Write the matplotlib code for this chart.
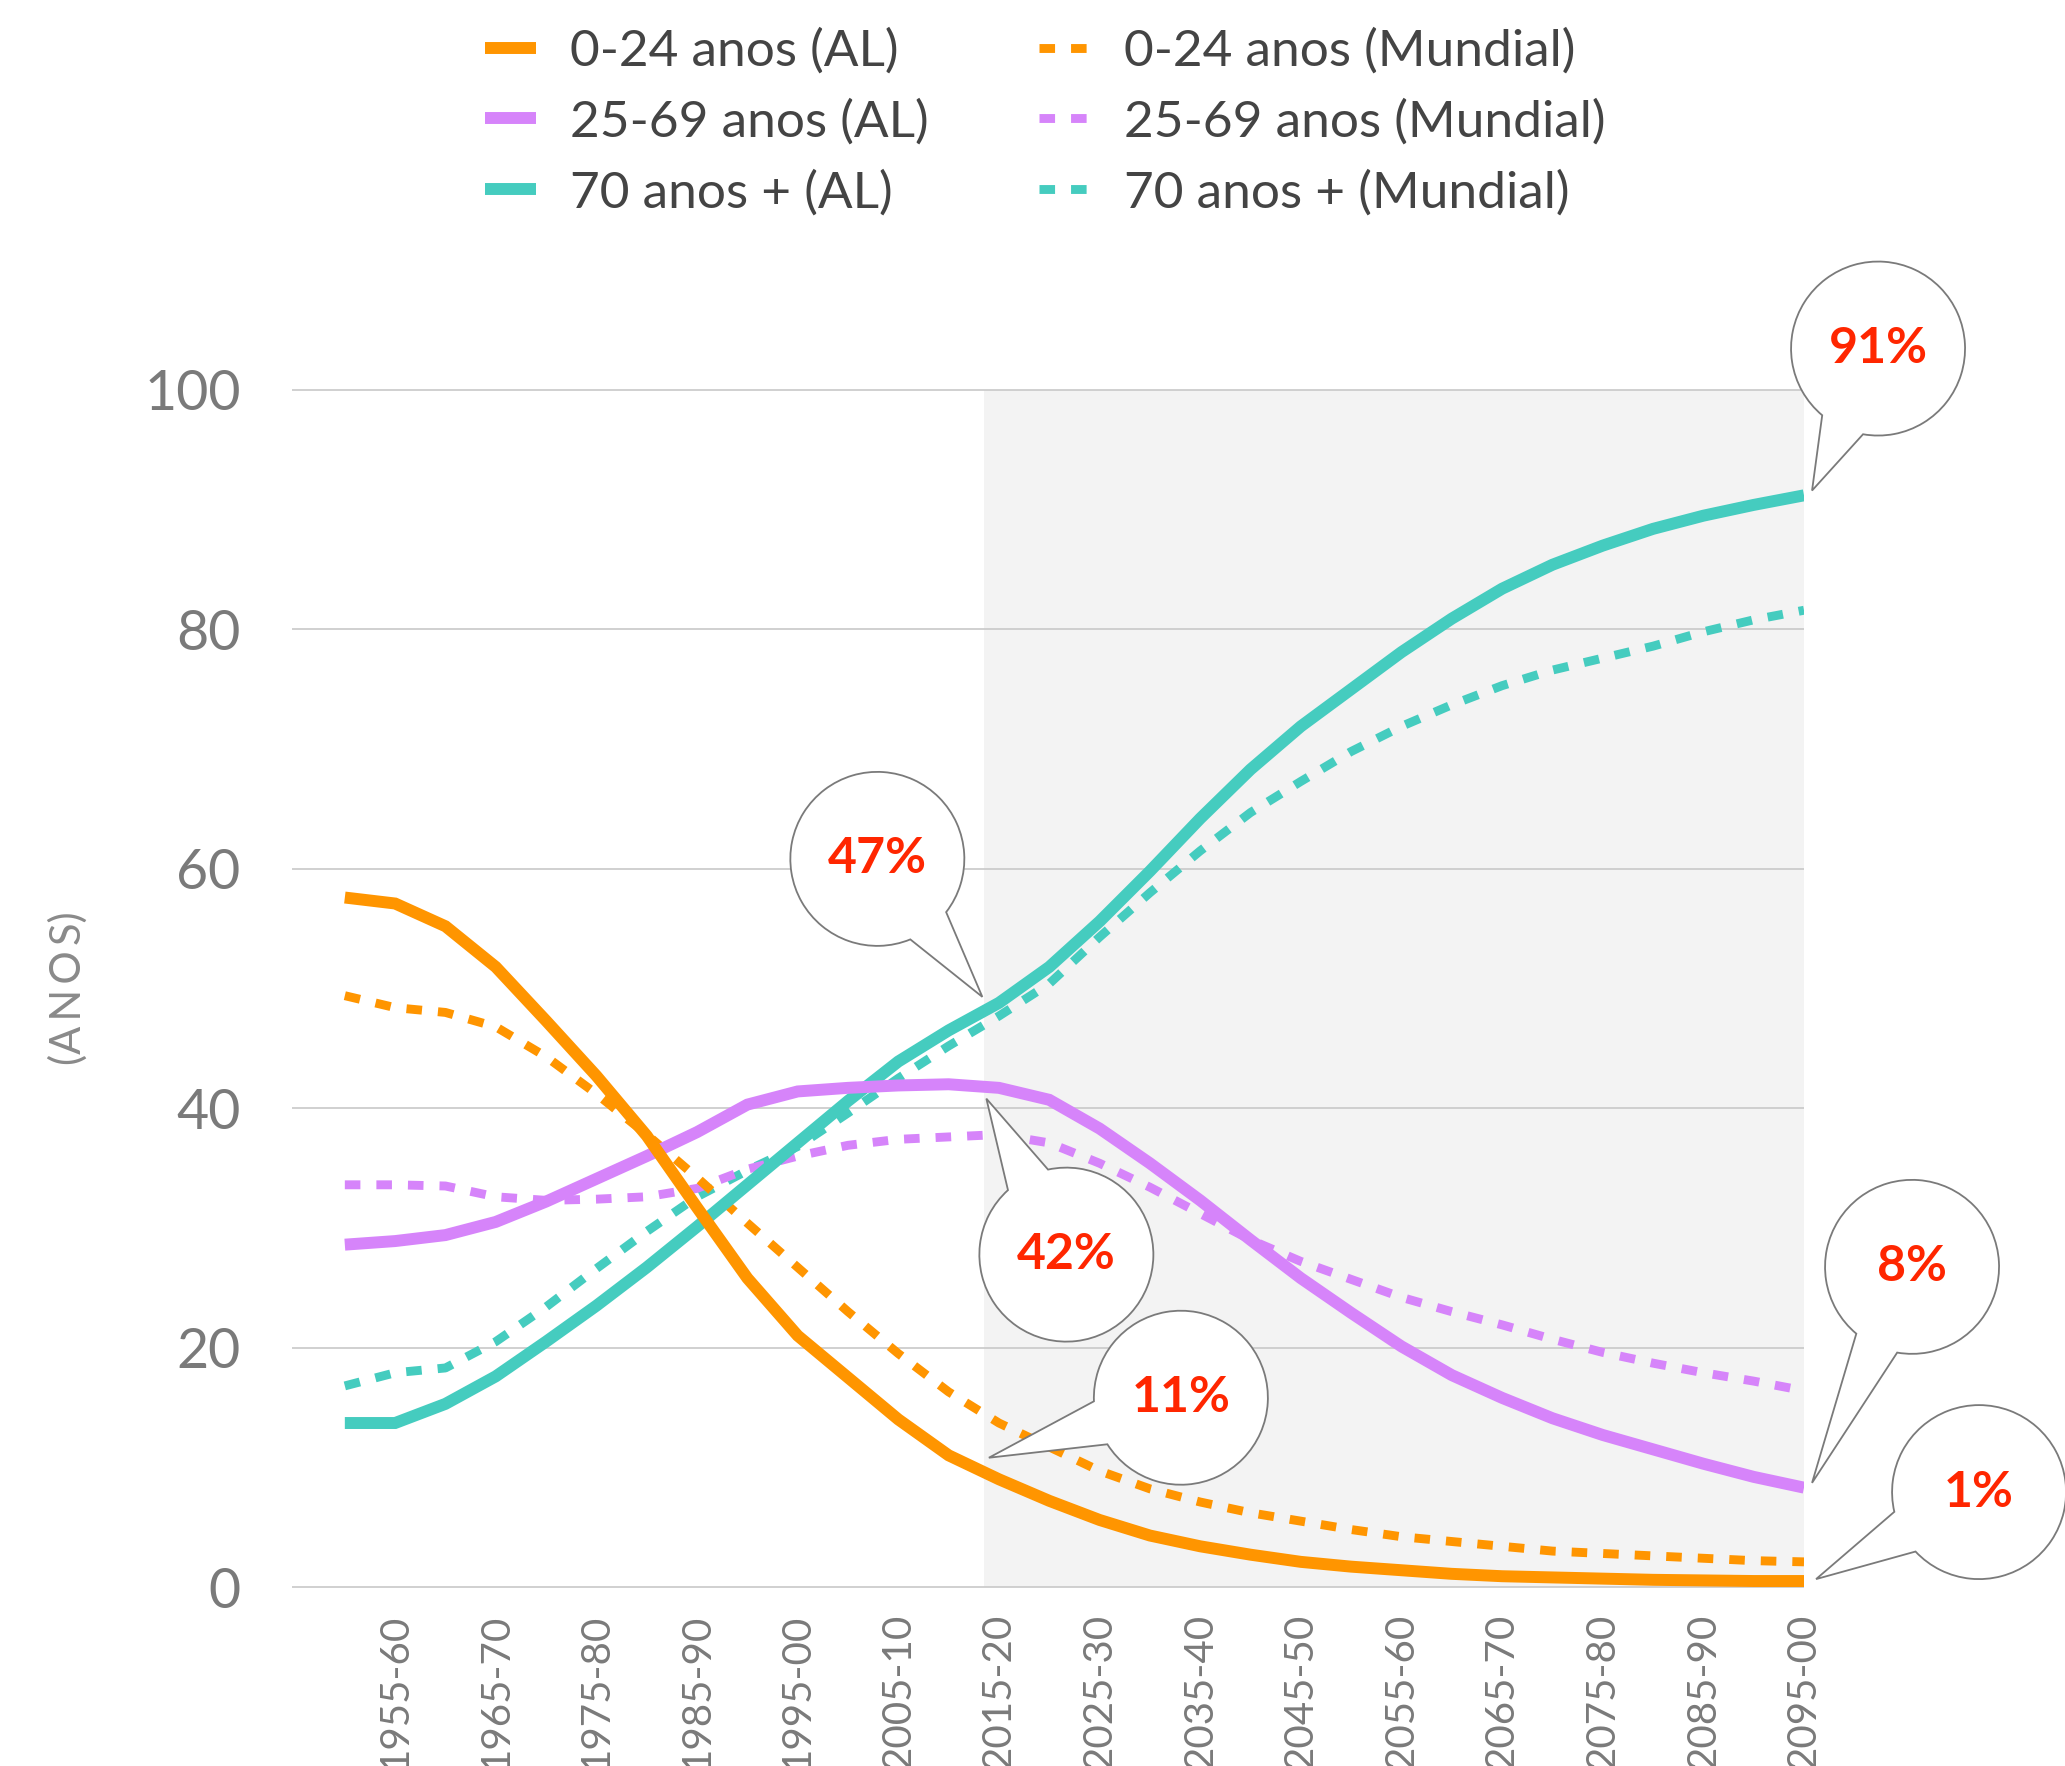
import numpy as np
import matplotlib.pyplot as plt
import matplotlib.transforms as mtransforms
from matplotlib.path import Path
from matplotlib.patches import PathPatch

plt.rcParams['font.family'] = ['Lato', 'DejaVu Sans']

# periodos quinquenais
periods = ['1950-55', '1955-60', '1960-65', '1965-70', '1970-75', '1975-80',
           '1980-85', '1985-90', '1990-95', '1995-00', '2000-05', '2005-10',
           '2010-15', '2015-20', '2020-25', '2025-30', '2030-35', '2035-40',
           '2040-45', '2045-50', '2050-55', '2055-60', '2060-65', '2065-70',
           '2070-75', '2075-80', '2080-85', '2085-90', '2090-95', '2095-00']

# America Latina
al_0_24 = [57.6, 57.1, 55.2, 51.8, 47.3, 42.7, 37.7, 31.7, 25.8, 21.0,
           17.5, 14.0, 11.0, 9.0, 7.2, 5.6, 4.3, 3.4, 2.7, 2.1,
           1.7, 1.4, 1.1, 0.9, 0.8, 0.7, 0.6, 0.55, 0.5, 0.5]
al_25_69 = [28.6, 28.9, 29.4, 30.5, 32.2, 34.1, 36.0, 38.0, 40.3, 41.4,
            41.7, 41.9, 42.0, 41.7, 40.7, 38.3, 35.4, 32.3, 29.0, 25.8,
            22.9, 20.1, 17.7, 15.8, 14.1, 12.7, 11.5, 10.3, 9.2, 8.3]
al_70 = [13.7, 13.7, 15.3, 17.6, 20.5, 23.5, 26.7, 30.1, 33.6, 37.1,
         40.6, 43.9, 46.5, 48.8, 51.8, 55.6, 59.8, 64.2, 68.3, 71.9,
         75.0, 78.1, 80.9, 83.4, 85.4, 87.0, 88.4, 89.5, 90.4, 91.2]

# Mundial
wld_0_24 = [49.4, 48.4, 48.0, 46.8, 44.3, 41.2, 37.8, 34.2, 30.4, 26.7,
            23.0, 19.5, 16.3, 13.7, 11.7, 9.7, 8.2, 7.1, 6.2, 5.5,
            4.8, 4.2, 3.8, 3.4, 3.0, 2.8, 2.6, 2.4, 2.2, 2.1]
wld_25_69 = [33.6, 33.6, 33.5, 32.6, 32.3, 32.4, 32.6, 33.3, 34.9, 36.0,
             36.9, 37.4, 37.6, 37.8, 37.1, 35.4, 33.4, 31.2, 29.0, 27.2,
             25.7, 24.2, 23.0, 21.9, 20.7, 19.6, 18.7, 17.9, 17.2, 16.4]
wld_70 = [16.8, 17.9, 18.3, 20.5, 23.4, 26.6, 29.7, 32.6, 34.8, 36.8,
          39.6, 42.5, 45.2, 47.7, 50.4, 54.3, 58.0, 61.5, 64.7, 67.3,
          69.8, 71.9, 73.7, 75.3, 76.6, 77.6, 78.6, 79.8, 80.8, 81.6]

yticks = [0, 20, 40, 60, 80, 100]
proj_start = 12.7  # inicio da projecao (sombreado)

# (texto, ponto da seta em dados, deslocamento do centro em px)
callouts = [('47%', (12.67, 49.3), (-105, 138)),
            ('42%', (12.75, 40.8), (80, -156)),
            ('11%', (12.8, 10.8), (192, 60)),
            ('91%', (29.16, 91.6), (66, 142)),
            ('8%', (29.16, 8.7), (100, 216)),
            ('1%', (29.24, 0.66), (163, 87))]

c_orange, c_purple, c_teal = '#FF9500', '#D684FA', '#45CCBF'
W, H = 2065, 1766

fig = plt.figure(figsize=(W / 100, H / 100), dpi=100)
ax = fig.add_axes([292 / W, 1 - 1587 / H, (1804 - 292) / W, (1587 - 390) / H])

x = np.arange(len(periods))
xmin = -1.05
ax.set_xlim(xmin, x[-1])
ax.set_ylim(0, 100)

ax.axvspan(proj_start, x[-1], color='#f3f3f3', lw=0, zorder=0)
ax.hlines(yticks, xmin, x[-1], colors='#c8c8c8', lw=1.2, zorder=1, clip_on=False)

dash = (0, (1.75, 1.8))
dashed = []
for vals, c, lab in [(wld_70, c_teal, '70 anos + (Mundial)'),
                     (wld_25_69, c_purple, '25-69 anos (Mundial)'),
                     (wld_0_24, c_orange, '0-24 anos (Mundial)')]:
    ln, = ax.plot(x, vals, color=c, lw=6.4, ls=dash, dash_capstyle='butt',
                  zorder=3, label=lab)
    dashed.append(ln)
solid = []
for vals, c, lab in [(al_70, c_teal, '70 anos + (AL)'),
                     (al_25_69, c_purple, '25-69 anos (AL)'),
                     (al_0_24, c_orange, '0-24 anos (AL)')]:
    ln, = ax.plot(x, vals, color=c, lw=8.6, solid_capstyle='butt',
                  solid_joinstyle='miter', zorder=4, label=lab)
    solid.append(ln)

for s in ax.spines.values():
    s.set_visible(False)

ax.set_xticks(x[1::2])
ax.set_xticklabels(periods[1::2], rotation=90, fontsize=29, color='#7a7a7a')
ax.set_yticks(yticks)
ax.set_yticklabels([str(v) for v in yticks], fontsize=40, color='#7a7a7a')
ax.tick_params(axis='x', length=0, pad=19)
ax.tick_params(axis='y', length=0, pad=37)

fig.text(68 / W, 1 - 988 / H, '(A\u2009N\u2009O\u2009S)', rotation=90,
         ha='center', va='center', fontsize=30, color='#8a8a8a')

leg_kw = dict(loc='upper left', frameon=False, fontsize=37, handlelength=1.0,
              handletextpad=0.65, labelspacing=0.47, borderpad=0,
              borderaxespad=0, labelcolor='#444444')
fig.legend(handles=solid[::-1], bbox_to_anchor=(485 / W, 1 - 28 / H), **leg_kw)
fig.legend(handles=dashed[::-1], bbox_to_anchor=(1039 / W, 1 - 28 / H), **leg_kw)


def bubble(text, tip, off, r=87, half=15):
    tx, ty = ax.transData.transform(tip)
    cx, cy = tx + off[0], ty + off[1]
    th = np.degrees(np.arctan2(ty - cy, tx - cx))
    arc = Path.arc(th + half, th + 360 - half)
    verts = np.vstack([arc.vertices * r + [cx, cy], [tx, ty], [cx, cy]])
    codes = list(arc.codes) + [Path.LINETO, Path.CLOSEPOLY]
    patch = PathPatch(Path(verts, codes), fc='white', ec='#7a7a7a', lw=1.3,
                      transform=mtransforms.IdentityTransform(), zorder=6)
    fig.add_artist(patch)
    fig.text(cx / W, cy / H, text, ha='center', va='center', color='#FF2600',
             fontsize=36, fontweight='bold', zorder=7)


for text, tip, off in callouts:
    bubble(text, tip, off)

fig.savefig('out.png', dpi=100)
